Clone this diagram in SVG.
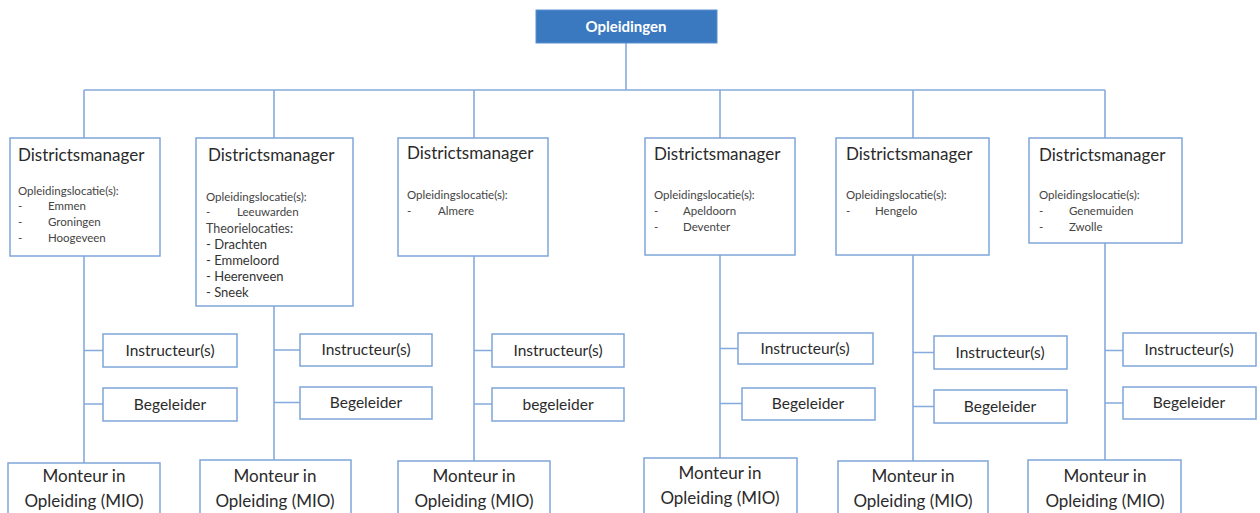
<svg xmlns="http://www.w3.org/2000/svg" width="1260" height="513" viewBox="0 0 1260 513">
<style>
.bx{fill:#fff;stroke:#7fa7d9;stroke-width:1.5}
.top{fill:#3a78c0;stroke:#5b8fd0;stroke-width:1}
.ln{fill:none;stroke:#85abdc;stroke-width:1.6}
.tt{font-family:Lato,"Liberation Sans",sans-serif;font-size:15.5px;fill:#2b2b2b}
.dm{font-family:Lato,"Liberation Sans",sans-serif;font-size:17px;fill:#2b2b2b}
.mi{font-family:Lato,"Liberation Sans",sans-serif;font-size:17px;fill:#2b2b2b;text-anchor:middle}
.sm{font-family:Lato,"Liberation Sans",sans-serif;font-size:11.5px;fill:#444}
.md{font-family:Lato,"Liberation Sans",sans-serif;font-size:13px;fill:#333}
.ctr{text-anchor:middle}
.hd{font-family:Lato,"Liberation Sans",sans-serif;font-size:15px;font-weight:bold;fill:#fff;text-anchor:middle}
</style>
<g id="connectors" class="ln">
<path d="M626 43V90M84 90H1105"/>
<path d="M84 90V138M274 90V138M474 90V138M720 90V138M913 90V138M1105 90V138"/>
<path d="M84 256V463M84 350.5H103M84 404H103"/>
<path d="M274 306V460M274 350H300M274 402.5H300"/>
<path d="M474 256V461M474 350.5H492M474 404H492"/>
<path d="M720 255V458M720 348.5H738M720 403.5H742"/>
<path d="M913 255V461M913 352.5H934M913 406.5H934"/>
<path d="M1105 243V460M1105 350.5H1123M1105 403H1123"/>
</g>
<g id="opleidingen">
<rect class="top" x="536" y="10" width="181" height="33"/>
<text class="hd" x="626" y="32">Opleidingen</text>
</g>
<g id="dm1">
<rect class="bx" x="10" y="138" width="150" height="118"/>
<text class="dm" x="18" y="161">Districtsmanager</text>
<text class="sm" x="18" y="195">Opleidingslocatie(s):</text>
<text class="sm" x="18" y="210">-</text><text class="sm" x="48" y="210">Emmen</text>
<text class="sm" x="18" y="226">-</text><text class="sm" x="48" y="226">Groningen</text>
<text class="sm" x="18" y="242">-</text><text class="sm" x="48" y="242">Hoogeveen</text>
</g>
<g id="dm2">
<rect class="bx" x="196" y="138" width="157" height="168"/>
<text class="dm" x="208" y="161">Districtsmanager</text>
<text class="sm" x="206" y="201">Opleidingslocatie(s):</text>
<text class="sm" x="206" y="216">-</text><text class="sm" x="237" y="216">Leeuwarden</text>
<text class="sm" x="206" y="233" style="font-size:12.5px">Theorielocaties:</text>
<text class="md" x="206" y="249">- Drachten</text>
<text class="md" x="206" y="265">- Emmeloord</text>
<text class="md" x="206" y="281">- Heerenveen</text>
<text class="md" x="206" y="297">- Sneek</text>
</g>
<g id="dm3">
<rect class="bx" x="398" y="138" width="150" height="118"/>
<text class="dm" x="407" y="159">Districtsmanager</text>
<text class="sm" x="407" y="199">Opleidingslocatie(s):</text>
<text class="sm" x="407" y="215">-</text><text class="sm" x="438" y="215">Almere</text>
</g>
<g id="dm4">
<rect class="bx" x="645" y="138" width="150" height="117"/>
<text class="dm" x="654" y="160">Districtsmanager</text>
<text class="sm" x="654" y="199">Opleidingslocatie(s):</text>
<text class="sm" x="654" y="215">-</text><text class="sm" x="683" y="215">Apeldoorn</text>
<text class="sm" x="654" y="231">-</text><text class="sm" x="683" y="231">Deventer</text>
</g>
<g id="dm5">
<rect class="bx" x="836" y="138" width="153" height="117"/>
<text class="dm" x="846" y="160">Districtsmanager</text>
<text class="sm" x="846" y="199">Opleidingslocatie(s):</text>
<text class="sm" x="846" y="215">-</text><text class="sm" x="875" y="215">Hengelo</text>
</g>
<g id="dm6">
<rect class="bx" x="1029" y="138" width="153" height="105"/>
<text class="dm" x="1039" y="161">Districtsmanager</text>
<text class="sm" x="1039" y="199">Opleidingslocatie(s):</text>
<text class="sm" x="1039" y="215">-</text><text class="sm" x="1069" y="215">Genemuiden</text>
<text class="sm" x="1039" y="231">-</text><text class="sm" x="1069" y="231">Zwolle</text>
</g>
<g id="instr1"><rect class="bx" x="103" y="334" width="134" height="33"/><text class="tt ctr" x="170" y="356">Instructeur(s)</text></g>
<g id="beg1"><rect class="bx" x="103" y="388" width="134" height="33"/><text class="tt ctr" x="170" y="410">Begeleider</text></g>
<g id="instr2"><rect class="bx" x="300" y="334" width="132" height="32"/><text class="tt ctr" x="366" y="355">Instructeur(s)</text></g>
<g id="beg2"><rect class="bx" x="300" y="387" width="132" height="32"/><text class="tt ctr" x="366" y="408">Begeleider</text></g>
<g id="instr3"><rect class="bx" x="492" y="334" width="132" height="33"/><text class="tt ctr" x="558" y="356">Instructeur(s)</text></g>
<g id="beg3"><rect class="bx" x="492" y="388" width="132" height="33"/><text class="tt ctr" x="558" y="410">begeleider</text></g>
<g id="instr4"><rect class="bx" x="738" y="333" width="135" height="31"/><text class="tt ctr" x="805" y="354">Instructeur(s)</text></g>
<g id="beg4"><rect class="bx" x="742" y="388" width="133" height="32"/><text class="tt ctr" x="808" y="409">Begeleider</text></g>
<g id="instr5"><rect class="bx" x="934" y="336" width="133" height="33"/><text class="tt ctr" x="1000" y="358">Instructeur(s)</text></g>
<g id="beg5"><rect class="bx" x="934" y="390" width="133" height="33"/><text class="tt ctr" x="1000" y="412">Begeleider</text></g>
<g id="instr6"><rect class="bx" x="1123" y="333" width="133" height="33"/><text class="tt ctr" x="1189" y="355">Instructeur(s)</text></g>
<g id="beg6"><rect class="bx" x="1123" y="387" width="133" height="32"/><text class="tt ctr" x="1189" y="408">Begeleider</text></g>
<g id="mio1"><rect class="bx" x="8" y="463" width="152" height="60"/><text class="mi" x="84" y="482">Monteur in</text><text class="mi" x="84" y="507">Opleiding (MIO)</text></g>
<g id="mio2"><rect class="bx" x="200" y="460" width="151" height="60"/><text class="mi" x="275" y="482">Monteur in</text><text class="mi" x="275" y="507">Opleiding (MIO)</text></g>
<g id="mio3"><rect class="bx" x="398" y="461" width="152" height="60"/><text class="mi" x="474" y="482">Monteur in</text><text class="mi" x="474" y="507">Opleiding (MIO)</text></g>
<g id="mio4"><rect class="bx" x="644" y="458" width="153" height="60"/><text class="mi" x="720" y="479">Monteur in</text><text class="mi" x="720" y="504">Opleiding (MIO)</text></g>
<g id="mio5"><rect class="bx" x="838" y="461" width="150" height="60"/><text class="mi" x="913" y="482">Monteur in</text><text class="mi" x="913" y="507">Opleiding (MIO)</text></g>
<g id="mio6"><rect class="bx" x="1028" y="460" width="153" height="60"/><text class="mi" x="1105" y="482">Monteur in</text><text class="mi" x="1105" y="507">Opleiding (MIO)</text></g>
</svg>
